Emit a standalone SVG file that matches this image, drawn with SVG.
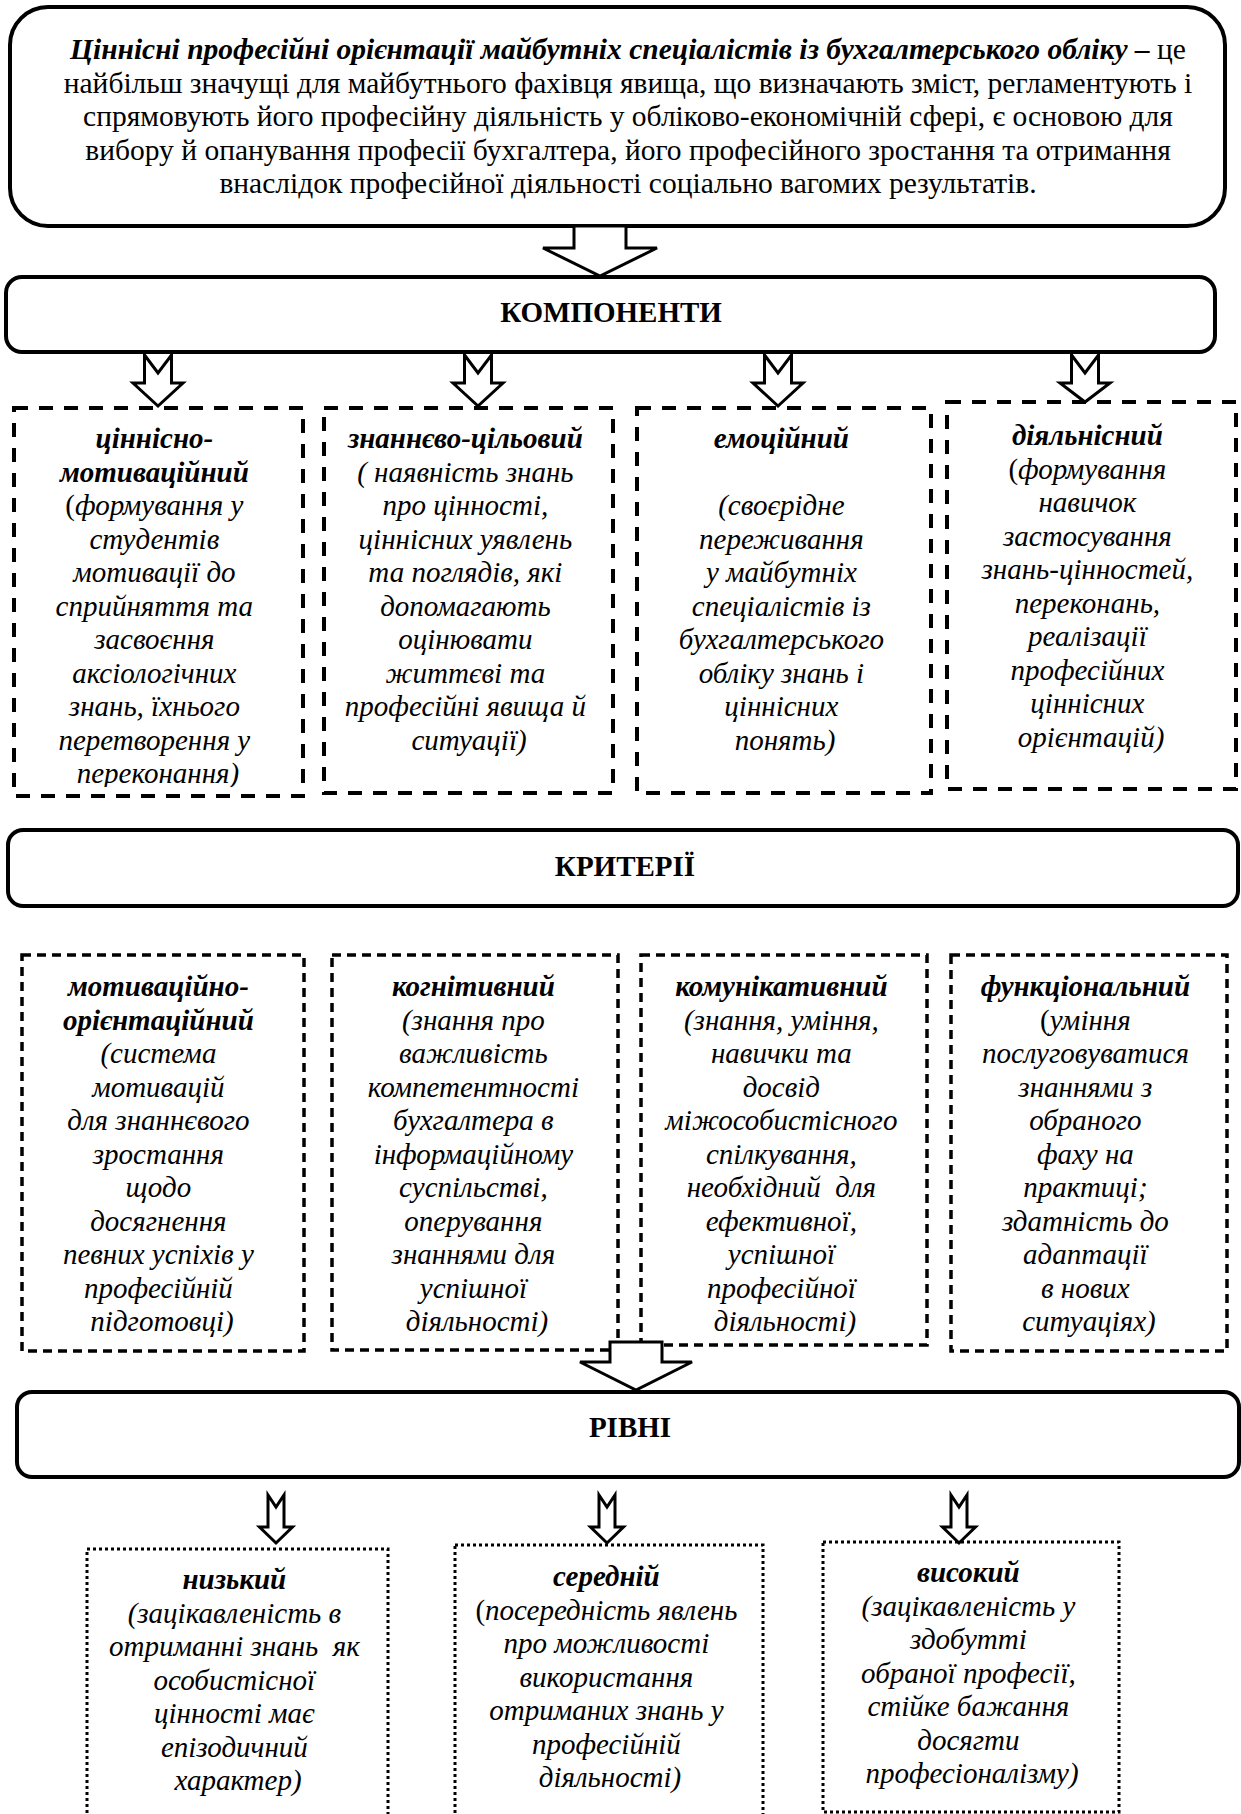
<svg xmlns="http://www.w3.org/2000/svg" width="1241" height="1814" viewBox="0 0 1241 1814">
<style>
.t{font-family:"Liberation Serif","Times New Roman",serif;font-size:29px;fill:#000;text-anchor:middle}
.big{font-size:29.5px}
.i{font-style:italic}
.b{font-weight:bold}
.n{font-style:normal}
.solid{fill:#fff;stroke:#000;stroke-width:4}
.d1{fill:none;stroke:#000;stroke-width:4;stroke-dasharray:14 11}
.d2{fill:none;stroke:#000;stroke-width:3.5;stroke-dasharray:9 6}
.dot{fill:none;stroke:#000;stroke-width:3;stroke-dasharray:3 3}
.arr{fill:#fff;stroke:#000;stroke-width:3;stroke-linejoin:miter}
</style>
<defs>
<clipPath id="clip1"><rect x="0" y="400" width="320" height="387"/></clipPath>
</defs>
<rect width="1241" height="1814" fill="#fff"/>

<g id="definition">
<rect class="solid" x="10" y="7" width="1215" height="219" rx="38" ry="38"/>
<text class="t big" x="628" y="59"><tspan class="b i">Ціннісні професійні орієнтації майбутніх спеціалістів із бухгалтерського обліку –</tspan> це</text>
<text class="t big" x="628" y="92.5">найбільш значущі для майбутнього фахівця явища, що визначають зміст, регламентують і</text>
<text class="t big" x="628" y="126">спрямовують його професійну діяльність у обліково-економічній сфері, є основою для</text>
<text class="t big" x="628" y="159.5">вибору й опанування професії бухгалтера, його професійного зростання та отримання</text>
<text class="t big" x="628" y="193">внаслідок професійної діяльності соціально вагомих результатів.</text>
</g>

<g id="components">
<rect class="solid" x="6" y="277" width="1209" height="75" rx="16" ry="16"/>
<text class="t b" x="611" y="322">КОМПОНЕНТИ</text>
</g>

<g id="comp-value-motivational">
<rect class="d1" x="14" y="408" width="289" height="388"/>
<text class="t i" clip-path="url(#clip1)">
<tspan class="b" x="158" y="448">ціннісно-</tspan>
<tspan class="b" x="158" y="481.5">мотиваційний</tspan>
<tspan x="158" y="515"><tspan class="n">(</tspan>формування у</tspan>
<tspan x="158" y="548.5">студентів</tspan>
<tspan x="158" y="582">мотивації до</tspan>
<tspan x="158" y="615.5">сприйняття та</tspan>
<tspan x="158" y="649">засвоєння</tspan>
<tspan x="158" y="682.5">аксіологічних</tspan>
<tspan x="158" y="716">знань, їхнього</tspan>
<tspan x="158" y="749.5">перетворення у</tspan>
<tspan x="158" y="783">переконання)</tspan>
</text>
</g>

<g id="comp-knowledge-goal">
<rect class="d1" x="324" y="408" width="289" height="385"/>
<text class="t i">
<tspan class="b" x="469" y="448">знаннєво-цільовий</tspan>
<tspan x="469" y="481.5">( наявність знань</tspan>
<tspan x="469" y="515">про цінності,</tspan>
<tspan x="469" y="548.5">ціннісних уявлень</tspan>
<tspan x="469" y="582">та поглядів, які</tspan>
<tspan x="469" y="615.5">допомагають</tspan>
<tspan x="469" y="649">оцінювати</tspan>
<tspan x="469" y="682.5">життєві та</tspan>
<tspan x="469" y="716">професійні явища й</tspan>
<tspan x="469" y="749.5">ситуації)</tspan>
</text>
</g>

<g id="comp-emotional">
<rect class="d1" x="637" y="408" width="294" height="385"/>
<text class="t i">
<tspan class="b" x="785" y="448">емоційний</tspan>
<tspan x="785" y="515">(своєрідне</tspan>
<tspan x="785" y="548.5">переживання</tspan>
<tspan x="785" y="582">у майбутніх</tspan>
<tspan x="785" y="615.5">спеціалістів із</tspan>
<tspan x="785" y="649">бухгалтерського</tspan>
<tspan x="785" y="682.5">обліку знань і</tspan>
<tspan x="785" y="716">ціннісних</tspan>
<tspan x="785" y="749.5">понять)</tspan>
</text>
</g>

<g id="comp-activity">
<rect class="d1" x="947" y="402" width="289" height="387"/>
<text class="t i">
<tspan class="b" x="1091" y="445">діяльнісний</tspan>
<tspan x="1091" y="478.5"><tspan class="n">(</tspan>формування</tspan>
<tspan x="1091" y="512">навичок</tspan>
<tspan x="1091" y="545.5">застосування</tspan>
<tspan x="1091" y="579">знань-цінностей,</tspan>
<tspan x="1091" y="612.5">переконань,</tspan>
<tspan x="1091" y="646">реалізації</tspan>
<tspan x="1091" y="679.5">професійних</tspan>
<tspan x="1091" y="713">ціннісних</tspan>
<tspan x="1091" y="746.5">орієнтацій)</tspan>
</text>
</g>

<g id="criteria">
<rect class="solid" x="8" y="830" width="1230" height="76" rx="15" ry="15"/>
<text class="t b" x="625" y="876">КРИТЕРІЇ</text>
</g>

<g id="crit-motivational">
<rect class="d2" x="22" y="955" width="282" height="396"/>
<text class="t i">
<tspan class="b" x="162" y="996">мотиваційно-</tspan>
<tspan class="b" x="162" y="1029.5">орієнтаційний</tspan>
<tspan x="162" y="1063">(система</tspan>
<tspan x="162" y="1096.5">мотивацій</tspan>
<tspan x="162" y="1130">для знаннєвого</tspan>
<tspan x="162" y="1163.5">зростання</tspan>
<tspan x="162" y="1197">щодо</tspan>
<tspan x="162" y="1230.5">досягнення</tspan>
<tspan x="162" y="1264">певних успіхів у</tspan>
<tspan x="162" y="1297.5">професійній</tspan>
<tspan x="162" y="1331">підготовці)</tspan>
</text>
</g>

<g id="crit-cognitive">
<rect class="d2" x="332" y="955" width="286" height="395"/>
<text class="t i">
<tspan class="b" x="477" y="996">когнітивний</tspan>
<tspan x="477" y="1029.5">(знання про</tspan>
<tspan x="477" y="1063">важливість</tspan>
<tspan x="477" y="1096.5">компетентності</tspan>
<tspan x="477" y="1130">бухгалтера в</tspan>
<tspan x="477" y="1163.5">інформаційному</tspan>
<tspan x="477" y="1197">суспільстві,</tspan>
<tspan x="477" y="1230.5">оперування</tspan>
<tspan x="477" y="1264">знаннями для</tspan>
<tspan x="477" y="1297.5">успішної</tspan>
<tspan x="477" y="1331">діяльності)</tspan>
</text>
</g>

<g id="crit-communicative">
<rect class="d2" x="641" y="955" width="286" height="390"/>
<text class="t i">
<tspan class="b" x="785" y="996">комунікативний</tspan>
<tspan x="785" y="1029.5">(знання, уміння,</tspan>
<tspan x="785" y="1063">навички та</tspan>
<tspan x="785" y="1096.5">досвід</tspan>
<tspan x="785" y="1130">міжособистісного</tspan>
<tspan x="785" y="1163.5">спілкування,</tspan>
<tspan x="785" y="1197" xml:space="preserve">необхідний  для</tspan>
<tspan x="785" y="1230.5">ефективної,</tspan>
<tspan x="785" y="1264">успішної</tspan>
<tspan x="785" y="1297.5">професійної</tspan>
<tspan x="785" y="1331">діяльності)</tspan>
</text>
</g>

<g id="crit-functional">
<rect class="d2" x="951" y="955" width="276" height="396"/>
<text class="t i">
<tspan class="b" x="1089" y="996">функціональний</tspan>
<tspan x="1089" y="1029.5"><tspan class="n">(</tspan>уміння</tspan>
<tspan x="1089" y="1063">послуговуватися</tspan>
<tspan x="1089" y="1096.5">знаннями з</tspan>
<tspan x="1089" y="1130">обраного</tspan>
<tspan x="1089" y="1163.5">фаху на</tspan>
<tspan x="1089" y="1197">практиці;</tspan>
<tspan x="1089" y="1230.5">здатність до</tspan>
<tspan x="1089" y="1264">адаптації</tspan>
<tspan x="1089" y="1297.5">в нових</tspan>
<tspan x="1089" y="1331">ситуаціях)</tspan>
</text>
</g>

<g id="levels">
<rect class="solid" x="17" y="1392" width="1222" height="85" rx="15" ry="15"/>
<text class="t b" x="630" y="1437">РІВНІ</text>
</g>

<g id="level-low">
<rect class="dot" x="87" y="1549" width="301" height="290"/>
<text class="t i">
<tspan class="b" x="238" y="1589">низький</tspan>
<tspan x="238" y="1622.5">(зацікавленість в</tspan>
<tspan x="238" y="1656" xml:space="preserve">отриманні знань  як</tspan>
<tspan x="238" y="1689.5">особистісної</tspan>
<tspan x="238" y="1723">цінності має</tspan>
<tspan x="238" y="1756.5">епізодичний</tspan>
<tspan x="238" y="1790">характер)</tspan>
</text>
</g>

<g id="level-medium">
<rect class="dot" x="455" y="1545" width="308" height="294"/>
<text class="t i">
<tspan class="b" x="610" y="1586">середній</tspan>
<tspan x="610" y="1619.5"><tspan class="n">(</tspan>посередність явлень</tspan>
<tspan x="610" y="1653">про можливості</tspan>
<tspan x="610" y="1686.5">використання</tspan>
<tspan x="610" y="1720">отриманих знань у</tspan>
<tspan x="610" y="1753.5">професійній</tspan>
<tspan x="610" y="1787">діяльності)</tspan>
</text>
</g>

<g id="level-high">
<rect class="dot" x="823" y="1542" width="296" height="270"/>
<text class="t i">
<tspan class="b" x="972" y="1582">високий</tspan>
<tspan x="972" y="1615.5">(зацікавленість у</tspan>
<tspan x="972" y="1649">здобутті</tspan>
<tspan x="972" y="1682.5">обраної професії,</tspan>
<tspan x="972" y="1716">стійке бажання</tspan>
<tspan x="972" y="1749.5">досягти</tspan>
<tspan x="972" y="1783">професіоналізму)</tspan>
</text>
</g>

<g id="connectors">
<polygon class="arr" points="574,226 626,226 626,248 657,248 600,276 543,248 574,248"/>
<polygon class="arr" points="144.5,355 158,373 171.5,355 171.5,383 183,383 158,406 133,383 144.5,383"/>
<polygon class="arr" points="464.5,355 478,373 491.5,355 491.5,383 503,383 478,406 453,383 464.5,383"/>
<polygon class="arr" points="764.5,355 778,373 791.5,355 791.5,383 803,383 778,406 753,383 764.5,383"/>
<polygon class="arr" points="1071.5,355 1085,373 1098.5,355 1098.5,383 1110,383 1085,402 1060,383 1071.5,383"/>
<polygon class="arr" points="610,1342 662,1342 662,1362 692,1362 636,1390 580,1362 610,1362"/>
<polygon class="arr" points="268,1495 276,1507 284,1495 284,1527 292.5,1527 276,1543 259.5,1527 268,1527"/>
<polygon class="arr" points="599,1495 607,1507 615,1495 615,1527 623.5,1527 607,1543 590.5,1527 599,1527"/>
<polygon class="arr" points="951,1495 959,1507 967,1495 967,1527 975.5,1527 959,1543 942.5,1527 951,1527"/>
</g>
</svg>
